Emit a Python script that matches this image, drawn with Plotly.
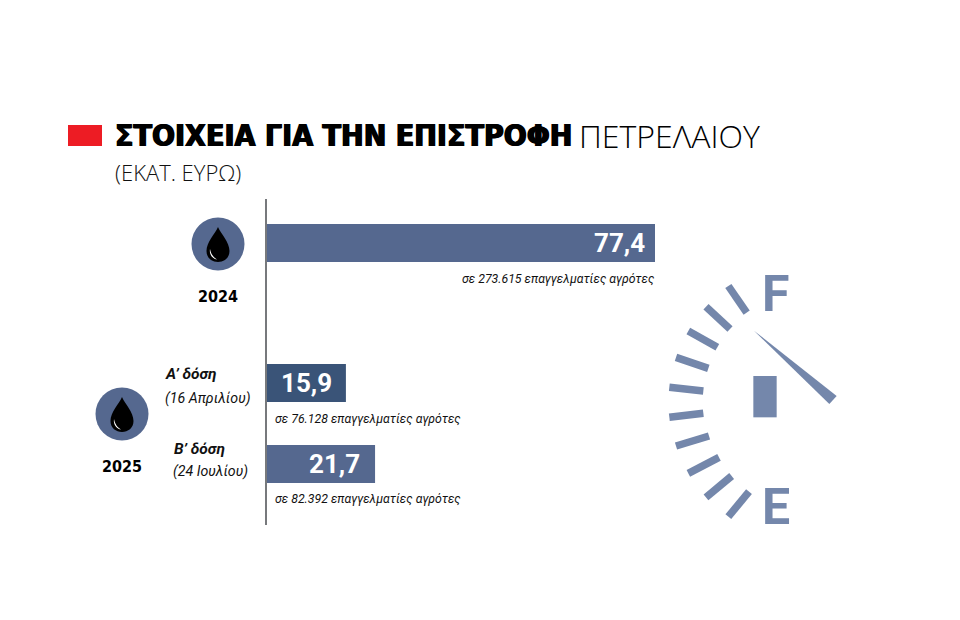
import plotly.graph_objects as go

W, H = 960, 620
periods_2024 = ["2024"]
values_2024 = [77.4]
farmers_2024 = ["273.615"]
periods_2025 = ["Α’ δόση", "Β’ δόση"]
values_2025 = [15.9, 21.7]
farmers_2025 = ["76.128", "82.392"]
dates_2025 = ["(16 Απριλίου)", "(24 Ιουλίου)"]

BAR = "#55688F"
BAR_DARK = "#3A5478"
GAUGE = "#7487AB"
NARROW = "Roboto"
HEAVY = "DejaVu Sans Condensed"
LIGHT = "Open Sans"


def px(x):
    return x / W


def py(y):
    return 1 - y / H


def path(cmds):
    out = []
    for c in cmds:
        if c[0] == "Z":
            out.append("Z")
        else:
            pts = c[1:]
            s = " ".join(f"{px(pts[i]):.5f},{py(pts[i+1]):.5f}" for i in range(0, len(pts), 2))
            out.append(f"{c[0]} {s}")
    return " ".join(out)


def z(x, y):
    return 640 + x / 3, 260 + y / 3


fig = go.Figure()
fig.add_bar(x=values_2024, y=periods_2024, orientation="h", xaxis="x", yaxis="y",
            width=38 / 81, marker=dict(color=BAR, line_width=0), hoverinfo="skip")
fig.add_bar(x=values_2025, y=periods_2025, orientation="h", xaxis="x", yaxis="y2",
            width=38 / 81, marker=dict(color=[BAR_DARK, BAR], line_width=0), hoverinfo="skip")

shapes = []
ann = []


def text(x, y, t, size, family=NARROW, color="#111", anchor="left", weight=None, style=None, shadow=None):
    f = dict(size=size, family=family, color=color)
    if weight:
        f["weight"] = weight
    if style:
        f["style"] = style
    if shadow:
        f["shadow"] = shadow
    ann.append(dict(xref="paper", yref="paper", x=px(x), y=py(y), text=t, showarrow=False,
                    xanchor=anchor, yanchor="middle", font=f, borderpad=0, borderwidth=0))


def rect(x0, y0, x1, y1, color):
    shapes.append(dict(type="rect", xref="paper", yref="paper", x0=px(x0), x1=px(x1),
                       y0=py(y0), y1=py(y1), fillcolor=color, line_width=0, layer="above"))


def drop(cx, cy):
    shapes.append(dict(type="circle", xref="paper", yref="paper", x0=px(cx - 26.5), x1=px(cx + 26.5),
                       y0=py(cy - 26.5), y1=py(cy + 26.5), fillcolor=BAR, line_width=0, layer="above"))
    d = path([("M", cx, cy - 17), ("C", cx + 3, cy - 10, cx + 11.5, cy - 2, cx + 11.5, cy + 7),
              ("C", cx + 11.5, cy + 14, cx + 6, cy + 18, cx, cy + 18),
              ("C", cx - 6, cy + 18, cx - 11.5, cy + 14, cx - 11.5, cy + 7),
              ("C", cx - 11.5, cy - 2, cx - 3, cy - 10, cx, cy - 17), ("Z",)])
    shapes.append(dict(type="path", xref="paper", yref="paper", path=d, fillcolor="#000", line_width=0, layer="above"))
    c = path([("M", cx - 8, cy + 5), ("C", cx - 9, cy + 11, cx - 5, cy + 15, cx - 1, cy + 15.5),
              ("C", cx - 5, cy + 13, cx - 7, cy + 10, cx - 8, cy + 5), ("Z",)])
    shapes.append(dict(type="path", xref="paper", yref="paper", path=c, fillcolor="#fff", line_width=0, layer="above"))


# Header
rect(68, 125, 102, 146, "#ED1C24")
text(115, 135.5, "ΣΤΟΙΧΕΙΑ ΓΙΑ ΤΗΝ ΕΠΙΣΤΡΟΦΗ", 30.1, family=HEAVY, color="#000", weight=700,
     shadow="0.7px 0 0 #000, -0.7px 0 0 #000")
text(579, 135.5, "ΠΕΤΡΕΛΑΙΟΥ", 32, family=LIGHT, color="#000", weight=300)
text(115, 172, "(ΕΚΑΤ. ΕΥΡΩ)", 22, family=LIGHT, color="#111", weight=300)

# Axis
shapes.append(dict(type="line", xref="paper", yref="paper", x0=px(266), x1=px(266), y0=py(199), y1=py(525),
                   line=dict(color="#77797C", width=2), layer="above"))

drop(218, 244)
drop(122, 414)
text(218, 296, "2024", 16, family=HEAVY, anchor="center", weight=700, color="#000")
text(122, 466, "2025", 16, family=HEAVY, anchor="center", weight=700, color="#000")

# Dose labels
text(165, 374, f"<b><i>{periods_2025[0]}</i></b>", 15.5)
text(165, 398, f"<i>{dates_2025[0]}</i>", 14.2)
text(174, 449, f"<b><i>{periods_2025[1]}</i></b>", 15.5)
text(173, 472, f"<i>{dates_2025[1]}</i>", 14.2)

# Captions
sub = "<i>σε {} επαγγελματίες αγρότες</i>"
text(654, 279, sub.format(farmers_2024[0]), 12.3, anchor="right")
text(275, 419, sub.format(farmers_2025[0]), 12.3)
text(275, 499, sub.format(farmers_2025[1]), 12.3)


def fmt(v):
    return f"{v:.1f}".replace(".", ",")


def vlabel(v, idx, yref, shift):
    ann.append(dict(xref="x", yref=yref, x=v, y=idx, text=f"<b>{fmt(v)}</b>", showarrow=False,
                    xanchor="right", yanchor="middle", xshift=shift,
                    font=dict(size=26, family=NARROW, color="#fff")))


vlabel(values_2024[0], 0, "y", -8)
vlabel(values_2025[0], 0, "y2", -12)
vlabel(values_2025[1], 1, "y2", -13)

# Fuel gauge
ticks = [((265, 78), (320, 158)), ((198, 140), (270, 207)), ((145, 213), (232, 262)),
         ((108, 292), (205, 325)), ((88, 382), (190, 393)), ((88, 472), (190, 460)),
         ((108, 558), (207, 528)), ((145, 640), (237, 592)), ((198, 712), (275, 648)),
         ((265, 770), (327, 695))]
for a, b in ticks:
    ax, ay = z(*a)
    bx, by = z(*b)
    shapes.append(dict(type="line", xref="paper", yref="paper", x0=px(ax), y0=py(ay), x1=px(bx), y1=py(by),
                       line=dict(color=GAUGE, width=7.5), layer="above"))
rect(*z(340, 348), *z(410, 472), GAUGE)
needle = path([("M", *z(342, 212)), ("L", *z(590, 408)), ("L", *z(568, 432)), ("Z",)])
shapes.append(dict(type="path", xref="paper", yref="paper", path=needle, fillcolor=GAUGE, line_width=0, layer="above"))
text(775.5, 294, "F", 50, family=NARROW, anchor="center", color=GAUGE, weight=700)
text(775.5, 507, "E", 50, family=NARROW, anchor="center", color=GAUGE, weight=700)

scale = 389 / 77.4
fig.update_layout(
    width=W, height=H, autosize=False,
    margin=dict(l=0, r=0, t=0, b=0, pad=0),
    paper_bgcolor="#fff", plot_bgcolor="#fff",
    showlegend=False, barmode="overlay",
    shapes=shapes, annotations=ann,
    xaxis=dict(range=[-266 / scale, (W - 266) / scale], visible=False, domain=[0, 1], fixedrange=True),
    yaxis=dict(type="category", categoryorder="array", categoryarray=periods_2024, range=[-0.5, 0.5],
               domain=[py(283.5), py(202.5)], visible=False, anchor="x", fixedrange=True),
    yaxis2=dict(type="category", categoryorder="array", categoryarray=periods_2025, range=[1.5, -0.5],
                domain=[py(504.5), py(342.5)], visible=False, anchor="x", fixedrange=True),
)
fig.write_html("out.html", config=dict(displayModeBar=False),
               post_script="document.body.style.margin='0';document.body.style.overflow='hidden';")
